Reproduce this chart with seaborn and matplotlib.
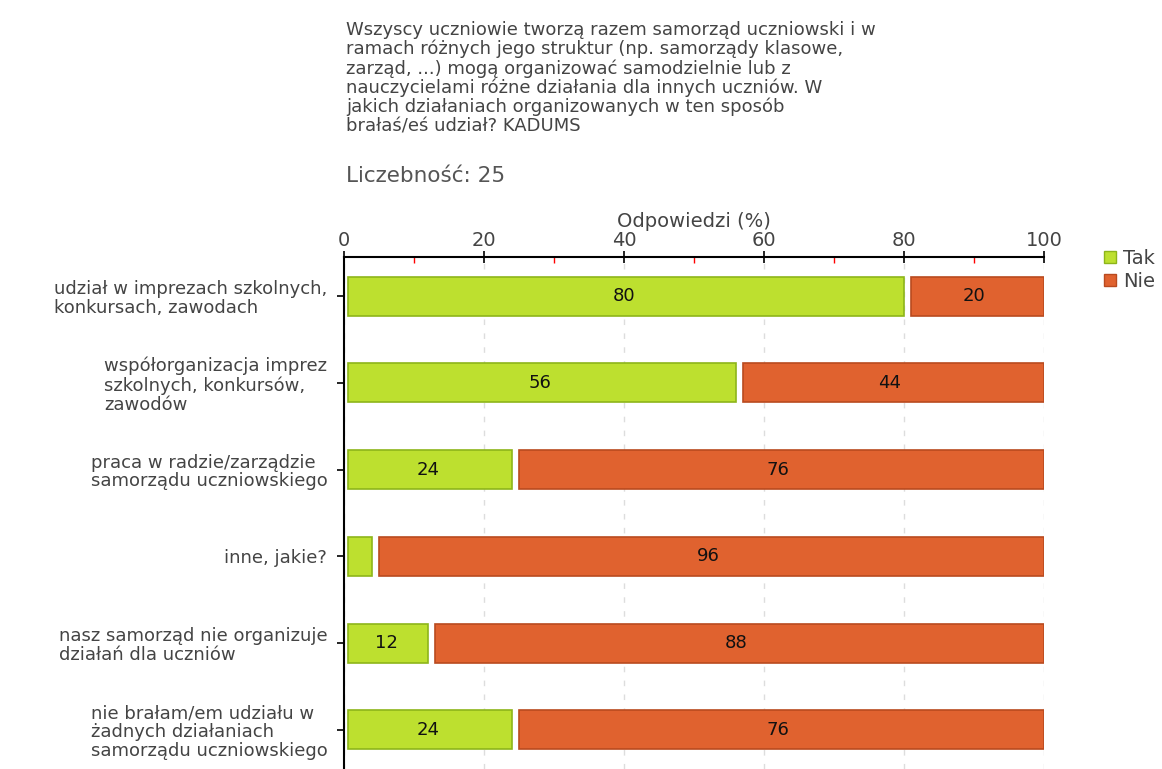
import matplotlib
matplotlib.use('Agg')
import matplotlib.pyplot as plt
import seaborn as sns
import numpy as np
from matplotlib.ticker import MultipleLocator
from matplotlib.patches import Patch

# dane z wykresu
kategorie = ['udział w imprezach szkolnych,\nkonkursach, zawodach',
             'współorganizacja imprez\nszkolnych, konkursów,\nzawodów',
             'praca w radzie/zarządzie\nsamorządu uczniowskiego',
             'inne, jakie?',
             'nasz samorząd nie organizuje\ndziałań dla uczniów',
             'nie brałam/em udziału w\nżadnych działaniach\nsamorządu uczniowskiego']
tak = [80, 56, 24, 4, 12, 24]
nie = [20, 44, 76, 96, 88, 76]
serie = ['Tak', 'Nie']

tytul = ('Wszyscy uczniowie tworzą razem samorząd uczniowski i w\n'
         'ramach różnych jego struktur (np. samorządy klasowe,\n'
         'zarząd, ...) mogą organizować samodzielnie lub z\n'
         'nauczycielami różne działania dla innych uczniów. W\n'
         'jakich działaniach organizowanych w ten sposób\n'
         'brałaś/eś udział? KADUMS')
liczebnosc = 'Liczebność: 25'

sns.set_style('white')
plt.rcParams['font.family'] = ['DejaVu Sans']

zielony, zielony_kraw = '#BDE02F', '#8DB51A'
pomar, pomar_kraw = '#E0622F', '#B94A1F'
szary = '#444444'

fig = plt.figure(figsize=(11.62, 7.69), dpi=100)
ax = fig.add_axes([344/1162, 0, 700/1162, 1 - 257/769])

y = np.arange(len(kategorie))
gap = 0.5
ax.barh(y, np.array(tak) - gap, left=gap, height=0.45,
        color=zielony, edgecolor=zielony_kraw, linewidth=1.2, zorder=3)
ax.barh(y, np.array(nie) - 1, left=np.array(tak) + 1, height=0.45,
        color=pomar, edgecolor=pomar_kraw, linewidth=1.2, zorder=3)

# etykiety wartości
for i in range(len(kategorie)):
    if tak[i] >= 8:
        ax.text(tak[i] / 2, i, str(tak[i]), ha='center', va='center', fontsize=13, color='#111', zorder=4)
    if nie[i] >= 8:
        ax.text(tak[i] + nie[i] / 2, i, str(nie[i]), ha='center', va='center', fontsize=13, color='#111', zorder=4)

ax.set_xlim(0, 100)
ax.set_ylim(5.45, -0.45)
ax.xaxis.tick_top()
ax.xaxis.set_label_position('top')
ax.xaxis.set_major_locator(MultipleLocator(20))
ax.xaxis.set_minor_locator(MultipleLocator(10))
ax.tick_params(axis='x', which='major', direction='inout', length=8, width=1.2, color='black',
               labelsize=14, labelcolor=szary, pad=1)
ax.tick_params(axis='x', which='minor', direction='in', length=4, width=1, color='red')
ax.set_xlabel('Odpowiedzi (%)', fontsize=14, color=szary, labelpad=3)

ax.set_yticks(y)
ax.set_yticklabels(kategorie, fontsize=13, color=szary, multialignment='left', linespacing=1.06)
ax.tick_params(axis='y', direction='out', length=5, width=1.2, color='black', pad=7, left=True)

for s in ['right', 'bottom']:
    ax.spines[s].set_visible(False)
for s in ['top', 'left']:
    ax.spines[s].set_color('black')
    ax.spines[s].set_linewidth(1.5)

ax.grid(axis='x', which='major', color='#DDDDDD', linestyle=(0, (4, 6)), linewidth=1, zorder=0)
ax.grid(axis='y', visible=False)

# tytuł i liczebność
fig.text(346/1162, 1 - 21/769, tytul, ha='left', va='top', fontsize=13, color=szary, linespacing=1.06)
fig.text(346/1162, 1 - 176/769, liczebnosc, ha='left', va='center', fontsize=15.5, color='#555')

# legenda
uchwyty = [Patch(facecolor=zielony, edgecolor=zielony_kraw), Patch(facecolor=pomar, edgecolor=pomar_kraw)]
fig.legend(uchwyty, serie, loc='upper left', bbox_to_anchor=(1104/1162, 1 - 249/769), frameon=False,
           fontsize=14, handlelength=0.6, handleheight=0.6, handletextpad=0.4, labelspacing=0.2,
           labelcolor=szary, borderaxespad=0, borderpad=0)

fig.savefig('out.png', dpi=100)
